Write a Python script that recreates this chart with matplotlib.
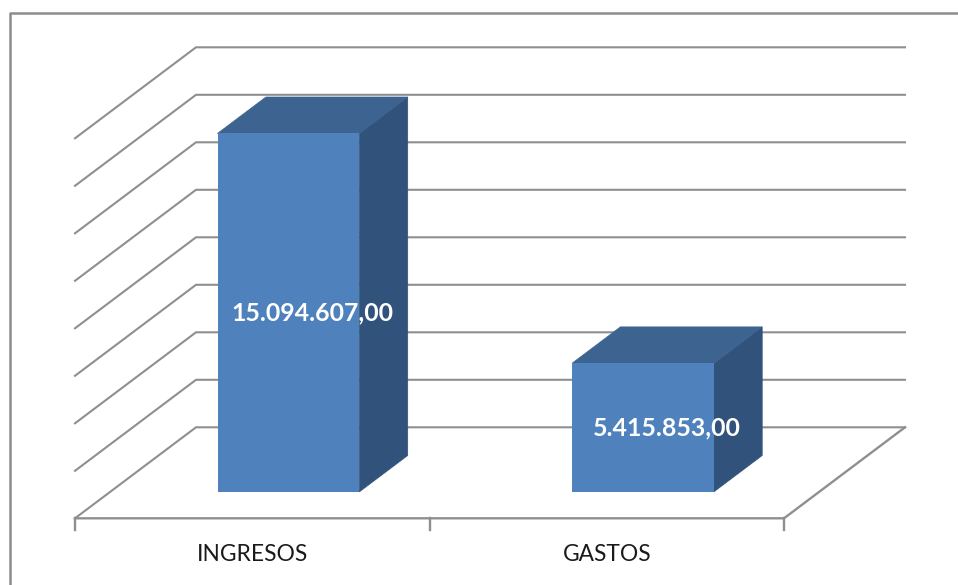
import matplotlib
matplotlib.use('Agg')
import matplotlib.pyplot as plt
from matplotlib.patches import Polygon
from matplotlib.lines import Line2D

plt.rcParams['font.family'] = ['Lato', 'DejaVu Sans']

categories = ['INGRESOS', 'GASTOS']
values = [15094607.00, 5415853.00]
value_labels = ['15.094.607,00', '5.415.853,00']
grid_values = [0, 2e6, 4e6, 6e6, 8e6, 10e6, 12e6, 14e6, 16e6]

W, H = 958, 585
fig = plt.figure(figsize=(W / 100, H / 100), dpi=100)
fig.patch.set_facecolor('white')

# outer chart frame, only left and top show in the crop
fig.add_artist(Line2D([10 / W, 10 / W, 1], [0, 1 - 12.5 / H, 1 - 12.5 / H],
                      color='#8c8c8c', lw=1.8, transform=fig.transFigure))

ax = fig.add_axes([75 / W, (H - 518.3) / H, (784 - 75) / W, 380 / H])
ax.set_xlim(0, 2)
ax.set_ylim(0, 16e6)
ax.axis('off')

# fake 3D: depth 0..1 shifts a point right and up
dx = 121 / (709 / 2)
dy = 91 / (380 / 16e6)


def pt(x, v, d=0.0):
    return (x + d * dx, v + d * dy)


grid_col = '#8f8f8f'
for g in grid_values:
    xs, ys = zip(pt(0, g), pt(0, g, 1), pt(2, g, 1))
    ax.plot(xs, ys, color=grid_col, lw=1.5, clip_on=False, zorder=1, solid_joinstyle='miter')

# floor front and right edge
xs, ys = zip(pt(0, 0), pt(2, 0), pt(2, 0, 1))
ax.plot(xs, ys, color=grid_col, lw=1.7, clip_on=False, zorder=1, solid_joinstyle='miter')

# ticks under the front edge
for t in [0, 1, 2]:
    ax.plot([t, t], [0, -0.5e6], color=grid_col, lw=1.7, clip_on=False, zorder=1)

bar_w = 0.4
d0, d1 = 0.29, 0.69
nudge = 0.003  # bars sit about a pixel right of the slot centre
for i, (cat, val, lab) in enumerate(zip(categories, values, value_labels)):
    x0 = i + 0.5 - bar_w / 2 + nudge
    x1 = i + 0.5 + bar_w / 2 + nudge
    front = [pt(x0, 0, d0), pt(x1, 0, d0), pt(x1, val, d0), pt(x0, val, d0)]
    side = [pt(x1, 0, d0), pt(x1, 0, d1), pt(x1, val, d1), pt(x1, val, d0)]
    top = [pt(x0, val, d0), pt(x1, val, d0), pt(x1, val, d1), pt(x0, val, d1)]
    ax.add_patch(Polygon(side, closed=True, fc='#31527b', ec='#31527b', lw=0.5, clip_on=False, zorder=3))
    ax.add_patch(Polygon(top, closed=True, fc='#3d6390', ec='#3d6390', lw=0.5, clip_on=False, zorder=3))
    ax.add_patch(Polygon(front, closed=True, fc='#4f81bd', ec='none', clip_on=False, zorder=4))

    # label sits mid depth in x but on the front face height
    cx = pt(i + 0.5 + nudge, 0, (d0 + d1) / 2)[0]
    cy = pt(0, val / 2, d0)[1]
    ax.text(cx, cy, lab, color='white', fontsize=17.9, fontweight='bold',
            ha='center', va='center', zorder=5, clip_on=False)
    ax.text(i + 0.5, -1.53e6, cat, color='#1a1a1a', fontsize=16.4,
            ha='center', va='center', clip_on=False)

fig.savefig('out.png', dpi=100)
